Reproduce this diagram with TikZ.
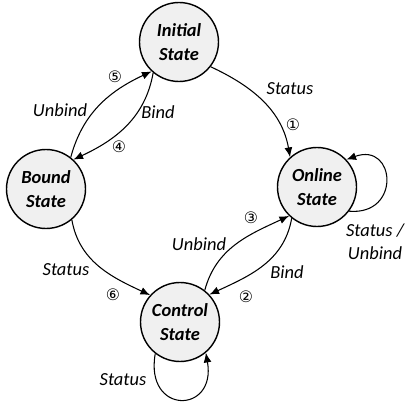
\documentclass[tikz,border=0pt]{standalone}
\usepackage{fontspec}
\setmainfont{Carlito}
\newfontfamily\circfont{DejaVu Sans}
\usetikzlibrary{arrows.meta}

\begin{document}
\begin{tikzpicture}[
  state/.style={circle, draw, line width=0.8pt, fill=gray!12, minimum size=1.58cm, inner sep=0pt, align=center, font=\fontsize{10.5}{13.5}\selectfont\bfseries\itshape},
  trans/.style={-{Latex[length=5.5pt,width=4.5pt]}, line width=0.6pt},
  lbl/.style={align=center, inner sep=1pt, font=\fontsize{10.5}{13}\selectfont\itshape},
  num/.style={inner sep=0pt, font=\circfont\fontsize{9}{9}\selectfont}
]
\useasboundingbox (0,0) rectangle (8.2,8.02);

% states
\node[state] (init) at (3.58,7.18) {Initial\\State};
\node[state] (bound) at (0.92,4.24) {Bound\\State};
\node[state] (online) at (6.34,4.28) {Online\\State};
\node[state] (control) at (3.60,1.58) {Control\\State};

% transitions
\draw[trans] (init.-38) to[out=-25,in=100] (online.132);
\draw[trans] (online.-129) to[out=-100,in=25] (control.43);
\draw[trans] (control.52) to[out=75,in=-155] (online.-134);
\draw[trans] (init.-130) to[out=-100,in=25] (bound.47);
\draw[trans] (bound.52) to[out=75,in=-155] (init.-133);
\draw[trans] (bound.-50) to[out=-80,in=155] (control.138);
\draw[trans] (online.-37) to[out=-5,in=20,distance=1.05cm] (online.43);
\draw[trans] (control.-128) to[out=-100,in=-80,distance=1.25cm] (control.-50);

% labels
\node[lbl] (l1) at (5.80,6.24) {Status};
\node[num] (n1) at (5.86,5.52) {①};
\node[lbl] (l2) at (5.74,2.58) {Bind};
\node[num] (n2) at (4.92,2.08) {②};
\node[lbl] (l3) at (3.98,3.14) {Unbind};
\node[num] (n3) at (5.02,3.66) {③};
\node[lbl] (l4) at (3.16,5.78) {Bind};
\node[num] (n4) at (2.38,5.08) {④};
\node[lbl] (l5) at (1.20,5.82) {Unbind};
\node[num] (n5) at (2.30,6.48) {⑤};
\node[lbl] (l6) at (1.32,2.62) {Status};
\node[num] (n6) at (2.26,2.12) {⑥};
\node[lbl] (l7) at (7.50,3.18) {Status /\\Unbind};
\node[lbl] (l8) at (2.46,0.42) {Status};

\end{tikzpicture}
\end{document}
